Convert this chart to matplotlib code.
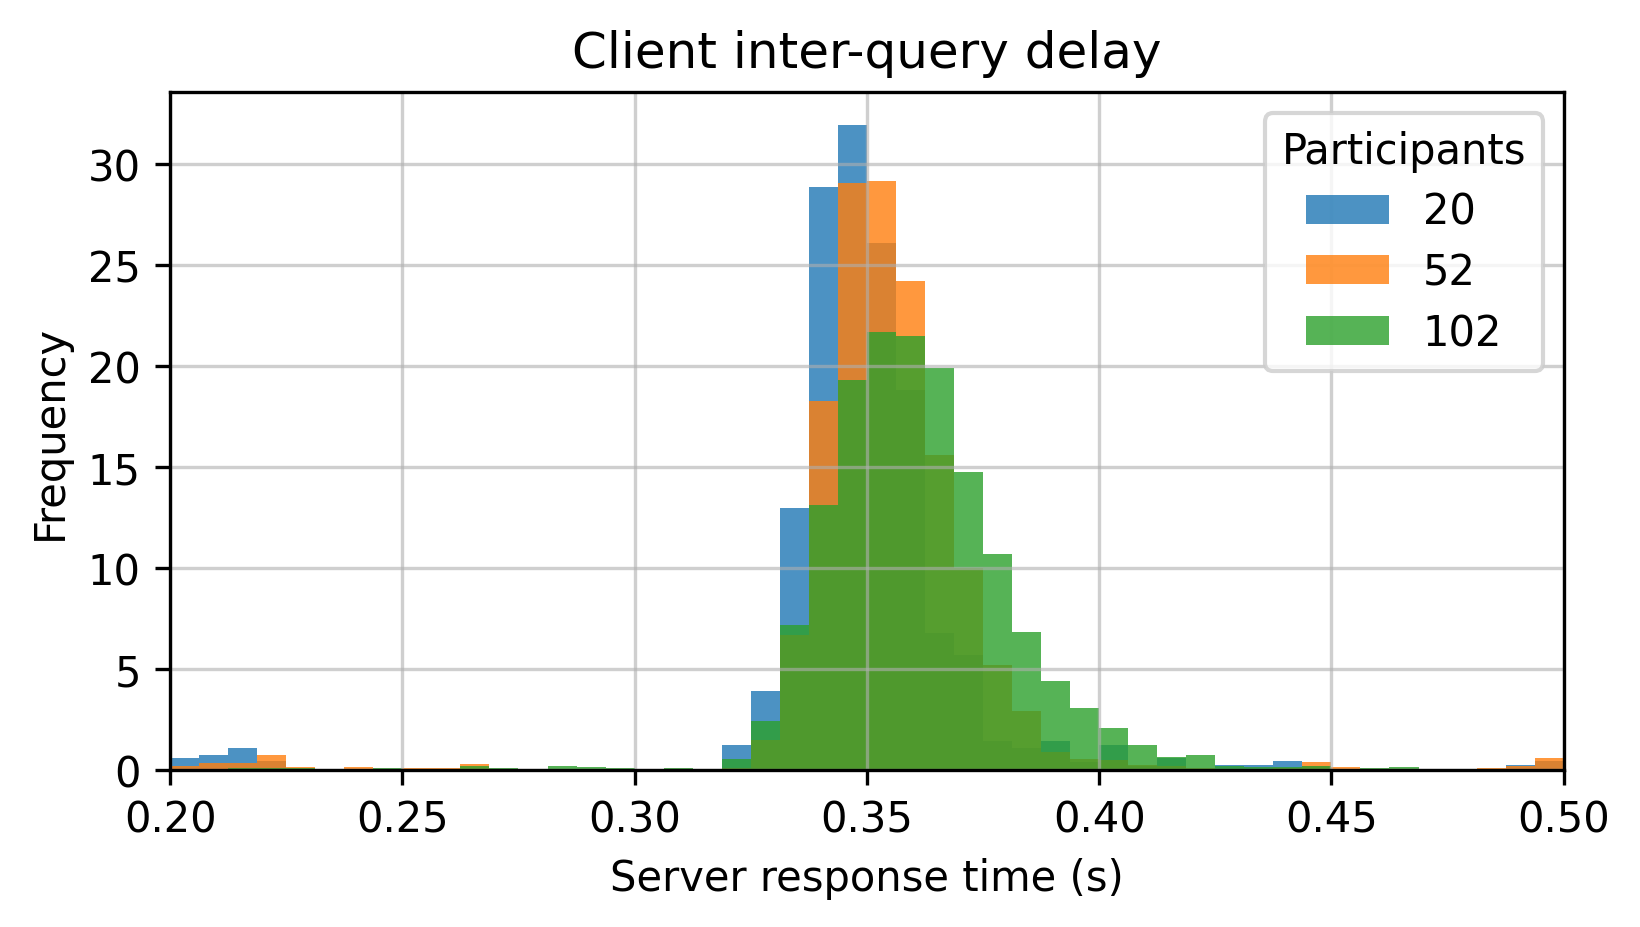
import numpy as np
import matplotlib
matplotlib.use("Agg")
import matplotlib.pyplot as plt

# histogram heights (density), 48 bins of 0.00625 s from 0.20 to 0.50
participants = ["20", "52", "102"]

freq_20 = [0.58, 0.73, 1.07, 0.43, 0, 0, 0, 0, 0, 0, 0, 0, 0, 0, 0, 0,
           0, 0, 0, 1.23, 3.88, 12.98, 28.9, 31.97, 26.1, 18.8, 6.8, 5.7, 1.4, 1.1, 1.4, 0.4,
           1.21, 0.2, 0.6, 0.05, 0.23, 0.23, 0.43, 0.2, 0, 0.05, 0, 0, 0, 0.05, 0.23, 0.45]

freq_52 = [0.18, 0.33, 0.33, 0.73, 0.13, 0, 0.13, 0, 0.08, 0.08, 0.28, 0.02, 0.02, 0.02, 0.02, 0.02,
           0.02, 0.02, 0.02, 0.1, 1.46, 6.7, 18.3, 29.1, 29.2, 24.2, 15.6, 9.98, 5.2, 2.9, 0.9, 0.53,
           0.47, 0.23, 0.16, 0.1, 0.05, 0.05, 0.1, 0.38, 0.13, 0.03, 0, 0, 0, 0.08, 0.18, 0.58]

freq_102 = [0, 0.05, 0.08, 0.08, 0.08, 0, 0.05, 0.08, 0, 0.03, 0.18, 0.08, 0.03, 0.18, 0.13, 0.08,
            0.03, 0.08, 0.03, 0.55, 2.4, 7.15, 13.1, 19.3, 21.7, 21.5, 19.9, 14.76, 10.7, 6.85, 4.4, 3.05,
            2.05, 1.22, 0.63, 0.73, 0.16, 0.13, 0.13, 0.2, 0, 0.08, 0.13, 0.05, 0.05, 0, 0, 0]

edges = np.linspace(0.2, 0.5, 49)
centers = (edges[:-1] + edges[1:]) / 2

fig, ax = plt.subplots(figsize=(5.467, 3.093), dpi=300)
fig.subplots_adjust(left=0.1037, right=0.9534, top=0.8994, bottom=0.1695)

for label, heights in zip(participants, [freq_20, freq_52, freq_102]):
    ax.hist(centers, bins=edges, weights=heights, alpha=0.8, label=label)

ax.set_xlim(0.2, 0.5)
ax.grid(True, color="#b0b0b0", alpha=0.6)
ax.set_title("Client inter-query delay")
ax.set_xlabel("Server response time (s)")
ax.set_ylabel("Frequency")
ax.legend(title="Participants", loc="upper right", labelspacing=0.45)

fig.savefig("out.png", dpi=300)
